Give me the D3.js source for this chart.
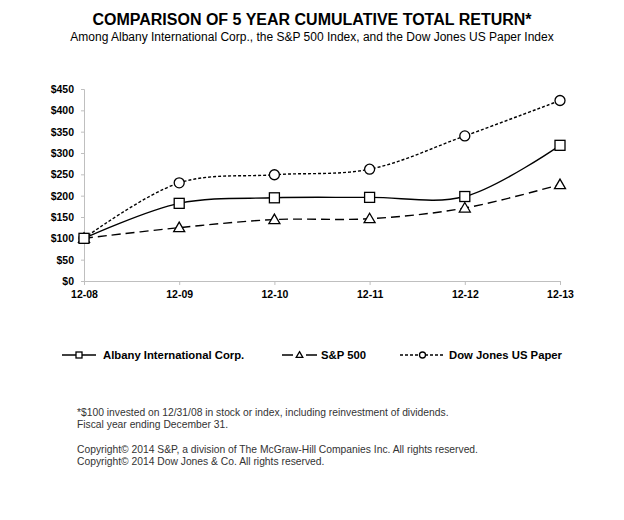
<!DOCTYPE html>
<html>
<head>
<meta charset="utf-8">
<script src="https://cdn.jsdelivr.net/npm/d3@7"></script>
<style>
  body { margin: 0; background: #fff; }
  text { font-family: "Liberation Sans", Arial, sans-serif; }
</style>
</head>
<body>
<svg id="mainsvg" width="624" height="520"></svg>
<script>
// data
const years = ["12-08", "12-09", "12-10", "12-11", "12-12", "12-13"];
const albany = [100, 182, 195, 196, 198, 318];
const sp500 = [100, 125, 144, 146, 171, 226];
const djPaper = [100, 230, 249, 262, 340, 423];
const yTicks = [0, 50, 100, 150, 200, 250, 300, 350, 400, 450];

const series = [
  { name: "Albany International Corp.", values: albany, dash: null, legendDash: null, marker: "square" },
  { name: "S&P 500", values: sp500, dash: "9,5", legendDash: "11,13", marker: "triangle" },
  { name: "Dow Jones US Paper", values: djPaper, dash: "3,2", legendDash: "3,2", marker: "circle" }
];

const svg = d3.select("#mainsvg");
const myWidth = +svg.attr("width");

svg.append("rect").attr("width", 624).attr("height", 520).attr("fill", "#fff");

// titles
svg.append("text")
  .attr("x", myWidth / 2).attr("y", 25)
  .attr("text-anchor", "middle")
  .attr("font-size", 16).attr("font-weight", "bold")
  .text("COMPARISON OF 5 YEAR CUMULATIVE TOTAL RETURN*");

svg.append("text")
  .attr("x", myWidth / 2).attr("y", 41)
  .attr("text-anchor", "middle")
  .attr("font-size", 12)
  .text("Among Albany International Corp., the S&P 500 Index, and the Dow Jones US Paper  Index");

// scales
const x = d3.scalePoint().domain(years).range([84, 560]);
const y = d3.scaleLinear().domain([0, 450]).range([281, 89]);

// axes
const axisColor = "#bfbfbf";

const yAxis = svg.append("g")
  .attr("transform", "translate(84,0)")
  .call(d3.axisLeft(y).tickValues(yTicks).tickSize(3).tickPadding(7).tickFormat(d => "$" + d));
yAxis.selectAll("line, path").attr("stroke", axisColor);
yAxis.selectAll("text")
  .attr("font-size", 10.5).attr("font-weight", "bold").attr("fill", "#000")
  .attr("font-family", "Liberation Sans, Arial, sans-serif");

const xAxis = svg.append("g")
  .attr("transform", "translate(0,281)")
  .call(d3.axisBottom(x).tickSize(4).tickSizeOuter(0));
xAxis.selectAll("line, path").attr("stroke", axisColor);
xAxis.selectAll("text")
  .attr("font-size", 10.5).attr("font-weight", "bold").attr("fill", "#000")
  .attr("dy", "0.95em")
  .attr("font-family", "Liberation Sans, Arial, sans-serif");

// lines
const line = d3.line()
  .x((d, i) => x(years[i]))
  .y(d => y(d))
  .curve(d3.curveCatmullRom.alpha(0.5));

function drawMarker(g, type, cx, cy, s) {
  if (type === "square") {
    g.append("rect")
      .attr("x", cx - s).attr("y", cy - s)
      .attr("width", 2 * s).attr("height", 2 * s)
      .attr("fill", "#fff").attr("stroke", "#000").attr("stroke-width", 1.3);
  } else if (type === "triangle") {
    g.append("path")
      .attr("d", `M${cx},${cy - s * 1.1}L${cx + s * 1.1},${cy + s * 0.8}L${cx - s * 1.1},${cy + s * 0.8}Z`)
      .attr("fill", "#fff").attr("stroke", "#000").attr("stroke-width", 1.3);
  } else {
    g.append("circle")
      .attr("cx", cx).attr("cy", cy).attr("r", s)
      .attr("fill", "#fff").attr("stroke", "#000").attr("stroke-width", 1.3);
  }
}

const plot = svg.append("g");
// draw in reverse so Albany sits on top at the start point
series.slice().reverse().forEach(s => {
  plot.append("path")
    .attr("d", line(s.values))
    .attr("fill", "none")
    .attr("stroke", "#000")
    .attr("stroke-width", 1.4)
    .attr("stroke-dasharray", s.dash);
});
series.slice().reverse().forEach(s => {
  s.values.forEach((v, i) => {
    drawMarker(plot, s.marker, x(years[i]), y(v), 5);
  });
});

// legend
const legendY = 355;
const legendItems = [
  { s: series[0], x1: 62, x2: 96, tx: 103 },
  { s: series[1], x1: 282, x2: 317, tx: 321 },
  { s: series[2], x1: 400, x2: 445, tx: 449 }
];
legendItems.forEach(l => {
  svg.append("line")
    .attr("x1", l.x1).attr("x2", l.x2)
    .attr("y1", legendY).attr("y2", legendY)
    .attr("stroke", "#000").attr("stroke-width", 1.4)
    .attr("stroke-dasharray", l.s.legendDash);
  drawMarker(svg, l.s.marker, (l.x1 + l.x2) / 2, legendY, 3);
  svg.append("text")
    .attr("x", l.tx).attr("y", legendY + 4)
    .attr("font-size", 11.3).attr("font-weight", "bold")
    .text(l.s.name);
});

// footnotes
const notes = [
  { t: "*$100 invested on 12/31/08 in stock or index, including reinvestment of dividends.", y: 416 },
  { t: "Fiscal year ending December 31.", y: 428 },
  { t: "Copyright\u00A9 2014 S&P, a division of The McGraw-Hill Companies Inc. All rights reserved.", y: 453 },
  { t: "Copyright\u00A9 2014 Dow Jones & Co. All rights reserved.", y: 465 }
];
svg.selectAll(".note")
  .data(notes)
  .join("text")
  .attr("class", "note")
  .attr("x", 77).attr("y", d => d.y)
  .attr("font-size", 10.3).attr("fill", "#333")
  .text(d => d.t);
</script>
</body>
</html>
